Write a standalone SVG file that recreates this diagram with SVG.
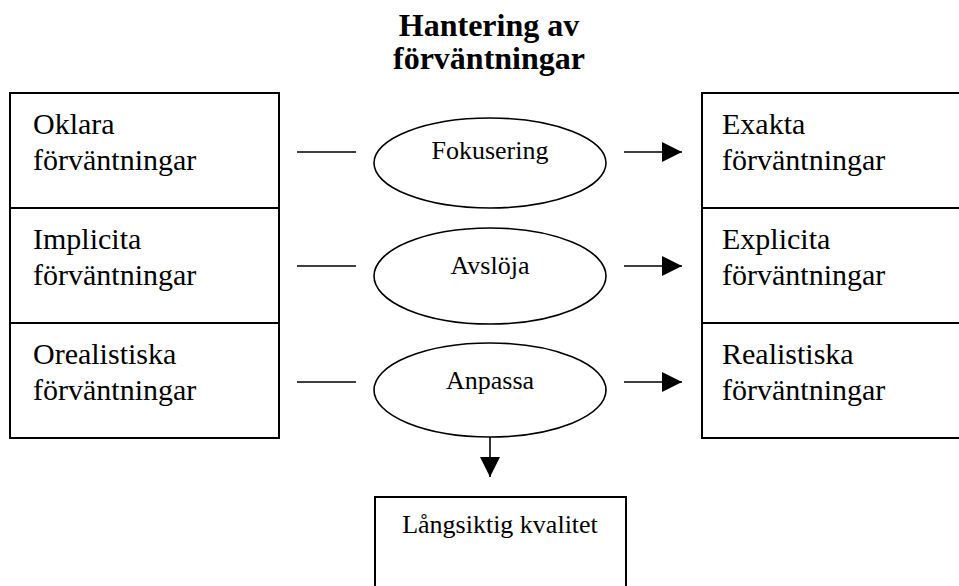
<svg xmlns="http://www.w3.org/2000/svg" width="959" height="586" viewBox="0 0 959 586">
<defs>
<style>
.box{fill:#fff;stroke:#000;stroke-width:2}
.div{stroke:#000;stroke-width:2}
.ell{fill:#fff;stroke:#000;stroke-width:1.6}
.ln{stroke:#000;stroke-width:1.6;fill:none}
.big{font-family:"Liberation Serif","Times New Roman",serif;font-size:30px;fill:#000}
.mid{font-family:"Liberation Serif","Times New Roman",serif;font-size:26px;fill:#000;text-anchor:middle}
.title{font-family:"Liberation Serif","Times New Roman",serif;font-size:32px;font-weight:bold;fill:#000;text-anchor:middle}
</style>
<marker id="ah" markerWidth="20" markerHeight="20" refX="20" refY="10" orient="auto" markerUnits="userSpaceOnUse">
<path d="M0,0 L20,10 L0,20 Z" fill="#000"/>
</marker>
</defs>
<rect width="959" height="586" fill="#fff"/>
<g id="title">
<text class="title" x="489" y="36">Hantering av</text>
<text class="title" x="489" y="69">förväntningar</text>
</g>
<g id="left-boxes">
<rect class="box" x="10" y="93" width="269" height="345"/>
<line class="div" x1="10" y1="208" x2="279" y2="208"/>
<line class="div" x1="10" y1="323" x2="279" y2="323"/>
</g>
<g id="oklara"><text class="big" x="33" y="134">Oklara</text><text class="big" x="33" y="170">förväntningar</text></g>
<g id="implicita"><text class="big" x="33" y="249">Implicita</text><text class="big" x="33" y="285">förväntningar</text></g>
<g id="orealistiska"><text class="big" x="33" y="364">Orealistiska</text><text class="big" x="33" y="400">förväntningar</text></g>
<g id="right-boxes">
<rect class="box" x="702" y="93" width="265" height="345"/>
<line class="div" x1="702" y1="208" x2="967" y2="208"/>
<line class="div" x1="702" y1="323" x2="967" y2="323"/>
</g>
<g id="exakta"><text class="big" x="722" y="134">Exakta</text><text class="big" x="722" y="170">förväntningar</text></g>
<g id="explicita"><text class="big" x="722" y="249">Explicita</text><text class="big" x="722" y="285">förväntningar</text></g>
<g id="realistiska"><text class="big" x="722" y="364">Realistiska</text><text class="big" x="722" y="400">förväntningar</text></g>
<g id="fokusering"><ellipse class="ell" cx="490" cy="163" rx="116" ry="45"/><text class="mid" x="490" y="159">Fokusering</text></g>
<g id="avsloja"><ellipse class="ell" cx="490" cy="276" rx="116" ry="48"/><text class="mid" x="490" y="274">Avslöja</text></g>
<g id="anpassa"><ellipse class="ell" cx="490" cy="390" rx="116" ry="47"/><text class="mid" x="490" y="389">Anpassa</text></g>
<g id="kvalitet"><rect class="box" x="375" y="497" width="251" height="100"/><text class="mid" x="500" y="533">Långsiktig kvalitet</text></g>
<g id="connectors">
<line class="ln" x1="297" y1="152" x2="356" y2="152"/>
<line class="ln" x1="297" y1="266" x2="356" y2="266"/>
<line class="ln" x1="297" y1="382" x2="356" y2="382"/>
<line class="ln" x1="624" y1="152" x2="682" y2="152" marker-end="url(#ah)"/>
<line class="ln" x1="624" y1="266" x2="682" y2="266" marker-end="url(#ah)"/>
<line class="ln" x1="624" y1="382" x2="682" y2="382" marker-end="url(#ah)"/>
<line class="ln" x1="490" y1="437" x2="490" y2="477" marker-end="url(#ah)"/>
</g>
</svg>
